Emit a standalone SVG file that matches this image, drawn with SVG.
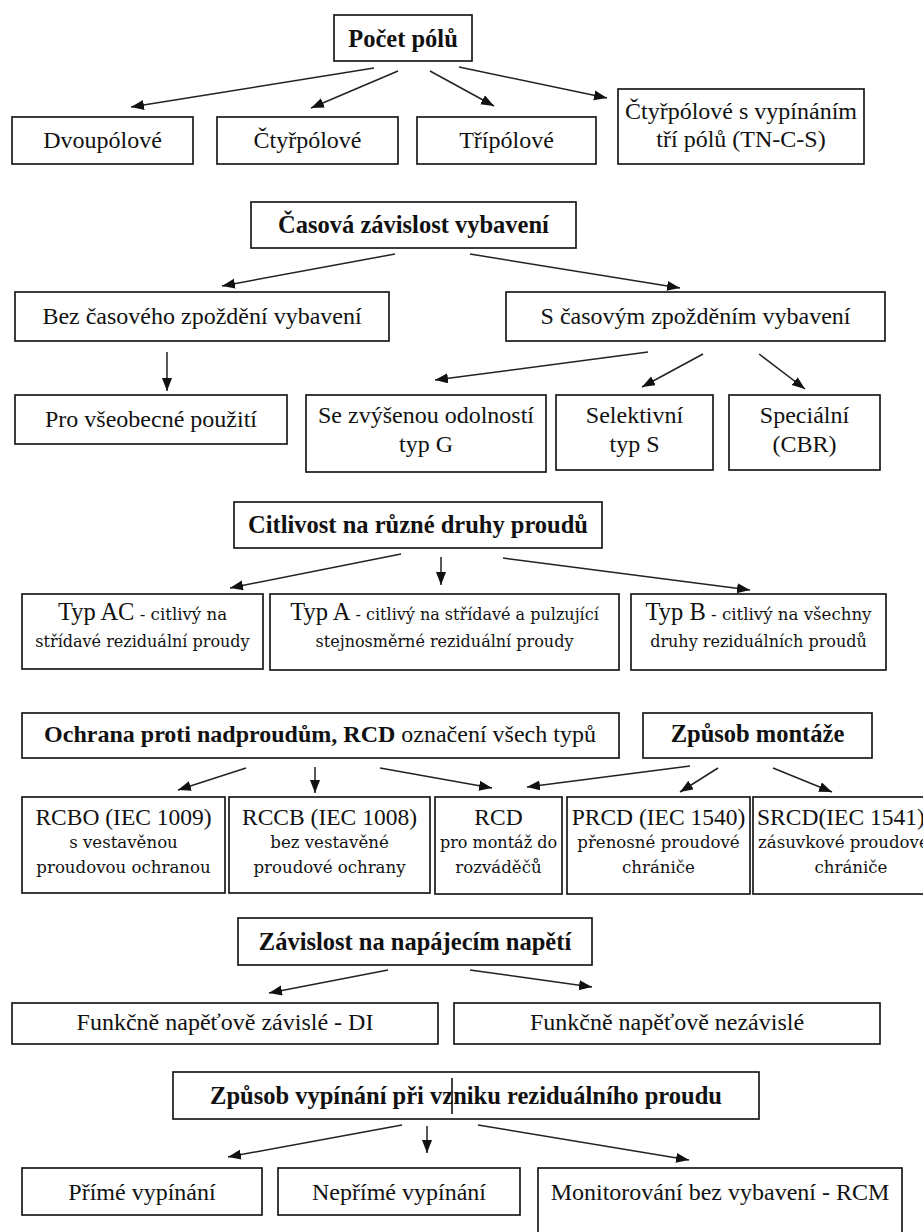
<svg xmlns="http://www.w3.org/2000/svg" width="923" height="1232" viewBox="0 0 923 1232">
  <style>
    .box { fill: #ffffff; stroke: #1a1a1a; stroke-width: 1.7; }
    .t { font-family: "Liberation Serif", "Times New Roman", serif; font-size: 24px; fill: #111111; text-anchor: middle; }
    .b { font-weight: bold; font-size: 24.5px; }
    .s { font-family: "DejaVu Serif", "Liberation Serif", serif; font-size: 16px; }
    .s2 { font-family: "DejaVu Serif", "Liberation Serif", serif; font-size: 16.6px; }
    .m { font-size: 23.5px; }
    .st { text-anchor: start; }
    #connectors line { stroke: #222222; stroke-width: 1.5; marker-end: url(#ah); }
  </style>
  <defs>
    <marker id="ah" markerUnits="userSpaceOnUse" markerWidth="14" markerHeight="11" refX="13" refY="5" orient="auto">
      <path d="M0,0 L13,5 L0,10 Z" fill="#111111"/>
    </marker>
  </defs>

  <rect x="0" y="0" width="923" height="1232" fill="#ffffff"/>

  <!-- Počet pólů -->
  <g id="n-pocet-polu"><rect class="box" x="334" y="15" width="138" height="46"/><text class="t b" x="403" y="47">Počet pólů</text></g>
  <g id="n-dvoupolove"><rect class="box" x="12" y="117" width="181" height="47"/><text class="t" x="102.5" y="148">Dvoupólové</text></g>
  <g id="n-ctyrpolove"><rect class="box" x="217" y="117" width="181" height="47"/><text class="t" x="307.5" y="148">Čtyřpólové</text></g>
  <g id="n-tripolove"><rect class="box" x="417" y="117" width="179" height="47"/><text class="t" x="506.5" y="148">Třípólové</text></g>
  <g id="n-ctyrpolove-tncs"><rect class="box" x="618" y="89" width="246" height="75"/><text class="t" x="741" y="119">Čtyřpólové s vypínáním</text><text class="t" x="741" y="147">tří pólů (TN-C-S)</text></g>

  <!-- Časová závislost vybavení -->
  <g id="n-casova"><rect class="box" x="251" y="202" width="325" height="46"/><text class="t b" x="413.5" y="233">Časová závislost vybavení</text></g>
  <g id="n-bez-zpozdeni"><rect class="box" x="15" y="292" width="374" height="49"/><text class="t" x="202" y="324">Bez časového zpoždění vybavení</text></g>
  <g id="n-se-zpozdenim"><rect class="box" x="506" y="292" width="379" height="49"/><text class="t" x="695.5" y="324">S časovým zpožděním vybavení</text></g>
  <g id="n-vseobecne"><rect class="box" x="15" y="395" width="272" height="49"/><text class="t" x="151" y="427">Pro všeobecné použití</text></g>
  <g id="n-typ-g"><rect class="box" x="306" y="395" width="240" height="77"/><text class="t" x="426" y="423">Se zvýšenou odolností</text><text class="t" x="426" y="452">typ G</text></g>
  <g id="n-typ-s"><rect class="box" x="556" y="395" width="157" height="75"/><text class="t" x="634.5" y="423">Selektivní</text><text class="t" x="634.5" y="452">typ S</text></g>
  <g id="n-cbr"><rect class="box" x="729" y="395" width="151" height="75"/><text class="t" x="804.5" y="423">Speciální</text><text class="t" x="804.5" y="452">(CBR)</text></g>

  <!-- Citlivost na různé druhy proudů -->
  <g id="n-citlivost"><rect class="box" x="234" y="502" width="368" height="46"/><text class="t b" x="418" y="533">Citlivost na různé druhy proudů</text></g>
  <g id="n-typ-ac"><rect class="box" x="22" y="594" width="241" height="75"/>
    <text class="t" x="142.5" y="620"><tspan font-size="24.5px">Typ AC</tspan><tspan class="s2"> - citlivý na</tspan></text>
    <text class="t s" x="142.5" y="647">střídavé reziduální proudy</text></g>
  <g id="n-typ-a"><rect class="box" x="270" y="594" width="349" height="76"/>
    <text class="t" x="444.5" y="620"><tspan font-size="24.5px">Typ A</tspan><tspan class="s"> - citlivý na střídavé a pulzující</tspan></text>
    <text class="t s" x="444.5" y="647">stejnosměrné reziduální proudy</text></g>
  <g id="n-typ-b"><rect class="box" x="631" y="594" width="255" height="76"/>
    <text class="t" x="758.5" y="620"><tspan font-size="24.5px">Typ B</tspan><tspan class="s2"> - citlivý na všechny</tspan></text>
    <text class="t s" x="758.5" y="647">druhy reziduálních proudů</text></g>

  <!-- Ochrana proti nadproudům / Způsob montáže -->
  <g id="n-ochrana"><rect class="box" x="22" y="713" width="597" height="45"/>
    <text class="t" x="320" y="742"><tspan font-weight="bold">Ochrana proti nadproudům, RCD</tspan> označení všech typů</text></g>
  <g id="n-montaz"><rect class="box" x="643" y="713" width="229" height="45"/><text class="t b" x="757.5" y="742">Způsob montáže</text></g>
  <g id="n-rcbo"><rect class="box" x="22" y="797" width="203" height="96"/>
    <text class="t m" x="123.5" y="825">RCBO (IEC 1009)</text>
    <text class="t s2" x="123.5" y="848">s vestavěnou</text>
    <text class="t s2" x="123.5" y="873">proudovou ochranou</text></g>
  <g id="n-rccb"><rect class="box" x="229" y="797" width="201" height="96"/>
    <text class="t m" x="329.5" y="825">RCCB (IEC 1008)</text>
    <text class="t s2" x="329.5" y="848">bez vestavěné</text>
    <text class="t s2" x="329.5" y="873">proudové ochrany</text></g>
  <g id="n-rcd"><rect class="box" x="435" y="797" width="127" height="97"/>
    <text class="t m" x="498.5" y="825">RCD</text>
    <text class="t s" x="498.5" y="848">pro montáž do</text>
    <text class="t s2" x="498.5" y="873">rozváděčů</text></g>
  <g id="n-prcd"><rect class="box" x="567" y="797" width="183" height="97"/>
    <text class="t m" x="658.5" y="825">PRCD (IEC 1540)</text>
    <text class="t s2" x="658.5" y="848">přenosné proudové</text>
    <text class="t s2" x="658.5" y="873">chrániče</text></g>
  <g id="n-srcd"><rect class="box" x="753" y="797" width="200" height="97"/>
    <text class="t m st" x="757" y="825">SRCD(IEC 1541)</text>
    <text class="t s2 st" x="758" y="848">zásuvkové proudové</text>
    <text class="t s2" x="851" y="873">chrániče</text></g>

  <!-- Závislost na napájecím napětí -->
  <g id="n-zavislost"><rect class="box" x="238" y="918" width="354" height="47"/><text class="t b" x="415" y="950">Závislost na napájecím napětí</text></g>
  <g id="n-di"><rect class="box" x="12" y="1003" width="426" height="41"/><text class="t" x="225" y="1030">Funkčně napěťově závislé - DI</text></g>
  <g id="n-nezavisle"><rect class="box" x="454" y="1003" width="426" height="41"/><text class="t" x="667" y="1030">Funkčně napěťově nezávislé</text></g>

  <!-- Způsob vypínání -->
  <g id="n-zpusob-vypinani"><rect class="box" x="173" y="1072" width="586" height="47"/>
    <text class="t b" x="466" y="1104">Způsob vypínání při vzniku reziduálního proudu</text>
    <line x1="452" y1="1078" x2="452" y2="1114" stroke="#111111" stroke-width="1.6"/></g>
  <g id="n-prime"><rect class="box" x="22" y="1168" width="240" height="47"/><text class="t" x="142" y="1200">Přímé vypínání</text></g>
  <g id="n-neprime"><rect class="box" x="278" y="1168" width="242" height="47"/><text class="t" x="399" y="1200">Nepřímé vypínání</text></g>
  <g id="n-rcm"><rect class="box" x="538" y="1168" width="364" height="80"/><text class="t" x="720" y="1200">Monitorování bez vybavení - RCM</text></g>

  <!-- Connectors -->
  <g id="connectors">
    <line x1="374" y1="68" x2="131" y2="107"/>
    <line x1="398" y1="71" x2="311" y2="108"/>
    <line x1="430" y1="71" x2="494" y2="106"/>
    <line x1="459" y1="67" x2="607" y2="98"/>

    <line x1="395" y1="254" x2="222" y2="286"/>
    <line x1="470" y1="254" x2="680" y2="288"/>
    <line x1="167" y1="352" x2="167" y2="391"/>
    <line x1="648" y1="352" x2="435" y2="380"/>
    <line x1="703" y1="354" x2="642" y2="387"/>
    <line x1="759" y1="354" x2="805" y2="389"/>

    <line x1="401" y1="554" x2="230" y2="588"/>
    <line x1="441" y1="557" x2="441" y2="585"/>
    <line x1="503" y1="558" x2="750" y2="590"/>

    <line x1="246" y1="768" x2="178" y2="790"/>
    <line x1="315" y1="767" x2="315" y2="793"/>
    <line x1="380" y1="768" x2="492" y2="788"/>
    <line x1="690" y1="766" x2="527" y2="787"/>
    <line x1="718" y1="768" x2="680" y2="792"/>
    <line x1="773" y1="768" x2="832" y2="792"/>

    <line x1="388" y1="970" x2="269" y2="993"/>
    <line x1="470" y1="970" x2="592" y2="987"/>

    <line x1="402" y1="1125" x2="228" y2="1157"/>
    <line x1="427" y1="1126" x2="427" y2="1153"/>
    <line x1="478" y1="1125" x2="689" y2="1160"/>
  </g>
</svg>
